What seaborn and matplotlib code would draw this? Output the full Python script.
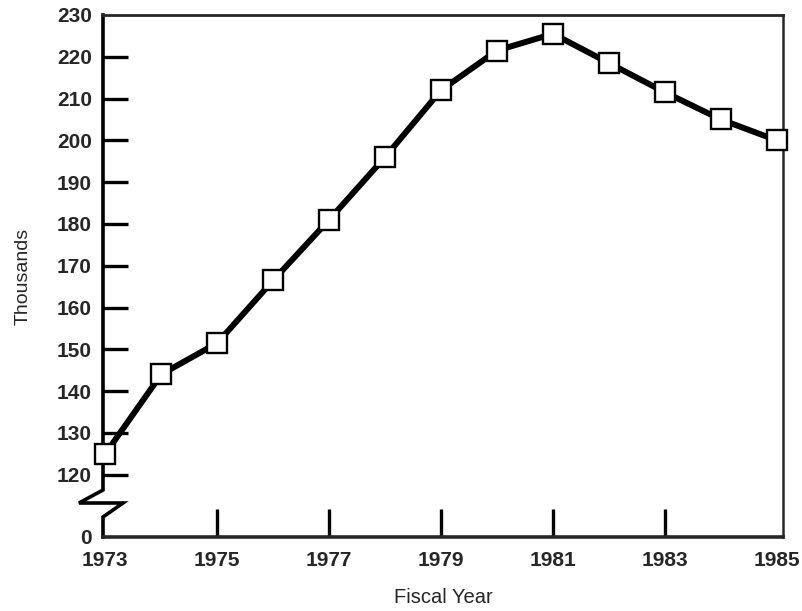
import matplotlib
matplotlib.use("Agg")
import matplotlib.pyplot as plt
import seaborn as sns

# values (thousands)
years = [1973, 1974, 1975, 1976, 1977, 1978, 1979,
         1980, 1981, 1982, 1983, 1984, 1985]
thousands = [125, 144, 151.5, 166.5, 181, 196, 212,
             221.5, 225.5, 218.5, 211.5, 205, 200]

year_ticks = [1973, 1975, 1977, 1979, 1981, 1983, 1985]
y_ticks = [120, 130, 140, 150, 160, 170, 180, 190, 200, 210, 220, 230]
y_floor = 105.1  # where the broken axis shows "0"

sns.set_style("ticks")
plt.rcParams["font.family"] = ["Liberation Sans", "DejaVu Sans"]

fig = plt.figure(figsize=(8.03, 6.11), dpi=100)
ax = fig.add_axes([103 / 803, 74 / 611, 680 / 803, 522 / 611])

sns.lineplot(x=years, y=thousands, ax=ax, color="black", lw=4.3,
             marker="s", markersize=15, markerfacecolor="white",
             markeredgecolor="black", markeredgewidth=1.7, clip_on=False,
             zorder=5)

ax.set_xlim(1972.96, 1985.11)
ax.set_ylim(y_floor, 230)

ax.set_xticks(year_ticks)
ax.set_xticklabels([str(y) for y in year_ticks])
ax.set_yticks([y_floor] + y_ticks)
ax.set_yticklabels(["0"] + [str(v) for v in y_ticks])

ax.tick_params(axis="both", direction="in", width=2.4, color="black",
               labelsize=15, pad=10)
ax.tick_params(axis="x", length=20)
ax.tick_params(axis="y", length=18, pad=8)
for lab in ax.get_xticklabels() + ax.get_yticklabels():
    lab.set_fontweight("bold")

# hide tick marks that sit on the frame
xt = ax.xaxis.get_major_ticks()
xt[0].tick1line.set_visible(False)
xt[-1].tick1line.set_visible(False)
yt = ax.yaxis.get_major_ticks()
yt[0].tick1line.set_visible(False)
yt[-1].tick1line.set_visible(False)

# frame: heavy bottom, lighter top/right, left drawn by hand with a break
ax.spines["bottom"].set_linewidth(2.6)
ax.spines["top"].set_linewidth(2.0)
ax.spines["right"].set_linewidth(1.8)
ax.spines["left"].set_visible(False)
w, h = 680.0, 522.0
brk_x = [0, 0, -24 / w, 20 / w, 0, 0]
brk_y = [1, 47 / h, 34 / h, 34 / h, 20 / h, 0]
ax.plot(brk_x, brk_y, transform=ax.transAxes, color="black", lw=2.6,
        clip_on=False, solid_joinstyle="miter", solid_capstyle="projecting")

ax.set_xlabel("Fiscal Year", fontsize=14.5, labelpad=13)
ax.set_ylabel("Thousands", fontsize=14, labelpad=18)

fig.savefig("out.png", dpi=100)
